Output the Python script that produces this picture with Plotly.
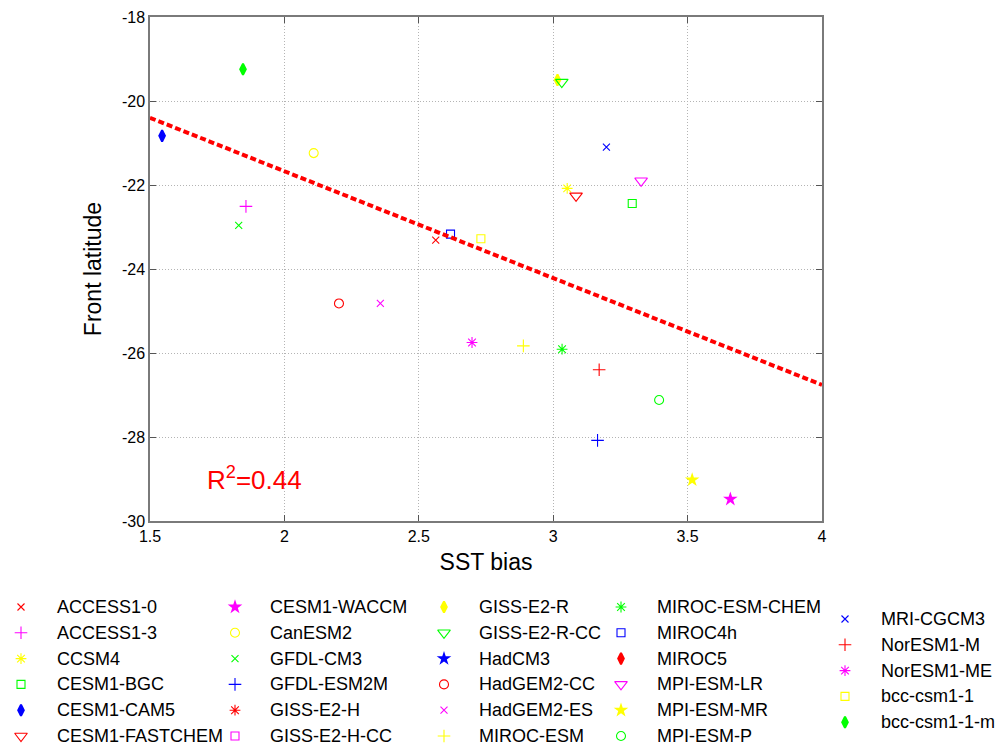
import plotly.graph_objects as go

# ---------------- data ----------------
models = ["ACCESS1-0", "ACCESS1-3", "CCSM4", "CESM1-BGC", "CESM1-CAM5", "CESM1-FASTCHEM",
          "CESM1-WACCM", "CanESM2", "GFDL-CM3", "GFDL-ESM2M", "GISS-E2-H", "GISS-E2-H-CC",
          "GISS-E2-R", "GISS-E2-R-CC", "HadCM3", "HadGEM2-CC", "HadGEM2-ES", "MIROC-ESM",
          "MIROC-ESM-CHEM", "MIROC4h", "MIROC5", "MPI-ESM-LR", "MPI-ESM-MR", "MPI-ESM-P",
          "MRI-CGCM3", "NorESM1-M", "NorESM1-ME", "bcc-csm1-1", "bcc-csm1-1-m"]

sst_bias = [2.563, 1.857, 3.052, 3.294, 1.545, 3.085,
            3.659, 2.109, 1.830, 3.165, None, None,
            3.016, 3.032, None, 2.203, 2.357, 2.889,
            3.033, 2.618, None, 3.327, 3.517, 3.394,
            3.198, 3.171, 2.698, 2.731, 1.846]

front_lat = [-23.31, -22.51, -22.08, -22.44, -20.83, -22.26,
             -29.48, -21.24, -22.96, -28.08, None, None,
             -19.50, -19.55, None, -24.82, -24.82, -25.83,
             -25.91, -23.17, None, -21.90, -29.02, -27.12,
             -21.10, -26.40, -25.75, -23.28, -19.245]

fit_x = [1.5, 4.0]
fit_y = [-20.40, -26.76]
r2_text = "R<sup>2</sup>=0.44"

x_ticks = [1.5, 2, 2.5, 3, 3.5, 4]
x_ticklabels = ["1.5", "2", "2.5", "3", "3.5", "4"]
y_ticks = [-30, -28, -26, -24, -22, -20, -18]
y_ticklabels = ["-30", "-28", "-26", "-24", "-22", "-20", "-18"]

# ---------------- styles ----------------
W, H = 1003, 746
PL, PR, PT, PB = 150, 822, 17, 521   # plot box in figure pixels

C = {"r": "#ff0000", "m": "#ff00ff", "y": "#ffff00", "g": "#00ff00", "b": "#0000ff"}
color_cycle = ["r", "m", "y", "g", "b"]
marker_cycle = ["x", "+", "*", "s", "d", "v", "p", "o"]
SYM = {"x": ("x-thin-open", 7, 1.1), "+": ("cross-thin-open", 9, 1.1),
       "*": ("asterisk-open", 9, 1.1), "s": ("square-open", 8, 1.1),
       "d": ("diamond-tall", 8, 2.0), "v": ("triangle-down-open", 11, 1.1),
       "p": ("star", 11, 0), "o": ("circle-open", 9, 1.1)}

FONT = "Liberation Sans, Arial, Helvetica, sans-serif"

fig = go.Figure()


def marker_style(i):
    col = C[color_cycle[i % 5]]
    sym, size, lw = SYM[marker_cycle[i % 8]]
    return dict(symbol=sym, size=size, color=col, line=dict(color=col, width=lw))


for i, name in enumerate(models):
    fig.add_trace(go.Scatter(x=[sst_bias[i]], y=[front_lat[i]], mode="markers",
                             name=name, marker=marker_style(i), showlegend=False))

fig.add_trace(go.Scatter(x=fit_x, y=fit_y, mode="lines", showlegend=False,
                         line=dict(color="#ff0000", width=4, dash="6px,3px")))

# ---------------- custom legend (5 columns, column-major) ----------------
col_marker_x = [21, 235, 444, 621, 845]
col_text_x = [55, 268, 477, 655, 879]
col_row0 = [607, 607, 607, 607, 619]
row_step = 25.8
per_col = [6, 6, 6, 6, 5]

idx = 0
for c in range(5):
    for r in range(per_col[c]):
        if idx >= len(models):
            break
        px = col_marker_x[c]
        py = col_row0[c] + r * row_step
        fig.add_trace(go.Scatter(x=[px], y=[py], mode="markers", xaxis="x2", yaxis="y2",
                                 marker=marker_style(idx), showlegend=False,
                                 cliponaxis=False, hoverinfo="skip"))
        fig.add_annotation(x=col_text_x[c], y=py, xref="x2", yref="y2", text=models[idx],
                           showarrow=False, xanchor="left", yanchor="middle",
                           font=dict(family=FONT, size=18, color="black"))
        idx += 1

fig.add_annotation(x=1.705, y=-28.98, xref="x", yref="y", text=r2_text, showarrow=False,
                   xanchor="left", yanchor="middle",
                   font=dict(family=FONT, size=26, color="#ff0000"))

axis_common = dict(showline=True, linecolor="#7a7a7a", linewidth=1.5, mirror="ticks",
                   ticks="inside", ticklen=6, tickcolor="#555555", tickwidth=1,
                   showgrid=True, gridcolor="#b4b4b4", griddash="1px,2px", gridwidth=1,
                   zeroline=False, tickfont=dict(family=FONT, size=16, color="black"))

fig.update_layout(
    width=W, height=H,
    margin=dict(l=0, r=0, t=0, b=0, autoexpand=False),
    paper_bgcolor="white", plot_bgcolor="rgba(0,0,0,0)",
    font=dict(family=FONT, color="black"),
    xaxis=dict(domain=[PL / W, PR / W], range=[1.5, 4], tickvals=x_ticks,
               ticktext=x_ticklabels,
               title=dict(text="SST bias", font=dict(family=FONT, size=23), standoff=10),
               **axis_common),
    yaxis=dict(domain=[1 - PB / H, 1 - PT / H], range=[-30, -18], tickvals=y_ticks,
               ticktext=y_ticklabels,
               title=dict(text="Front latitude", font=dict(family=FONT, size=23), standoff=14),
               **axis_common),
    xaxis2=dict(domain=[0, 1], range=[0, W], anchor="y2", visible=False, fixedrange=True),
    yaxis2=dict(domain=[0, 1], range=[H, 0], anchor="x2", visible=False, fixedrange=True),
)

fig.write_html("out.html")
